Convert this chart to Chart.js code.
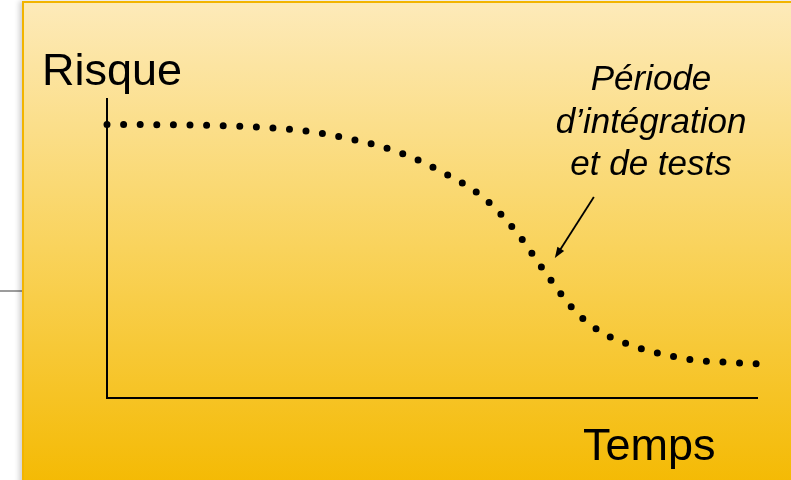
<!DOCTYPE html>
<html>
<head>
<meta charset="utf-8">
<title>Risque / Temps</title>
<script src="https://cdn.jsdelivr.net/npm/chart.js@4.4.0/dist/chart.umd.min.js"></script>
<style>
  html, body { margin: 0; padding: 0; background: #fff; }
  body { width: 791px; height: 480px; position: relative; overflow: hidden; }
  .rule { position: absolute; left: 0; top: 290px; width: 22px; height: 2px; background: #9c9c9c; }
  .panel {
    position: absolute; left: 22px; top: 1px; width: 780px; height: 490px;
    border-left: 2px solid #f2b400; border-top: 2px solid #f2b400;
    background: linear-gradient(#fdeab9 0%, #f9d35c 50%, #f4b900 100%);
    box-shadow: -3px 0 5px rgba(0, 0, 0, 0.18);
  }
  canvas { position: absolute; left: 0; top: 0; }
</style>
</head>
<body>
<div class="rule"></div>
<div class="panel"></div>
<canvas id="riskChart" width="791" height="480"></canvas>
<script>
// curve (time 0-100, risk 0-100)
const timeValues = [0, 12.6, 22.6, 30.2, 37.5, 44.8, 51.5, 58, 63.1, 67.5, 72, 76, 80.5, 85.4, 90.2, 95.2, 100.2];
const riskValues = [91.5, 91.3, 90.7, 89.4, 86.6, 82.3, 75.6, 66.9, 55.2, 41.8, 29.1, 22.1, 17.7, 14.7, 12.7, 12.0, 11.4];

const yTitle = 'Risque';
const xTitle = 'Temps';
const noteLines = ['Période', 'd’intégration', 'et de tests'];
// arrow: from tail to head, in data units
const arrowFrom = { x: 74.9, y: 67.2 };
const arrowTo = { x: 68.9, y: 46.8 };

const labelsPlugin = {
  id: 'labels',
  afterDatasetsDraw(chart) {
    const { ctx, scales: { x, y } } = chart;
    ctx.save();
    ctx.fillStyle = '#000';
    ctx.textBaseline = 'alphabetic';

    ctx.font = '45px "Liberation Sans", Arial, sans-serif';
    ctx.textAlign = 'left';
    ctx.fillText(yTitle, 42, 85);
    ctx.fillText(xTitle, 583, 460);

    ctx.font = 'italic 35px "Liberation Sans", Arial, sans-serif';
    ctx.textAlign = 'center';
    noteLines.forEach((line, i) => ctx.fillText(line, 651, 90 + i * 42.5));

    // arrow
    const x0 = x.getPixelForValue(arrowFrom.x), y0 = y.getPixelForValue(arrowFrom.y);
    const x1 = x.getPixelForValue(arrowTo.x), y1 = y.getPixelForValue(arrowTo.y);
    const ang = Math.atan2(y1 - y0, x1 - x0);
    ctx.strokeStyle = '#000';
    ctx.lineWidth = 1.8;
    ctx.beginPath();
    ctx.moveTo(x0, y0);
    ctx.lineTo(x1 - 6 * Math.cos(ang), y1 - 6 * Math.sin(ang));
    ctx.stroke();
    ctx.beginPath();
    ctx.moveTo(x1, y1);
    ctx.lineTo(x1 - 11 * Math.cos(ang) + 4 * Math.sin(ang), y1 - 11 * Math.sin(ang) - 4 * Math.cos(ang));
    ctx.lineTo(x1 - 11 * Math.cos(ang) - 4 * Math.sin(ang), y1 - 11 * Math.sin(ang) + 4 * Math.cos(ang));
    ctx.closePath();
    ctx.fill();
    ctx.restore();
  }
};

const axisOpts = {
  min: 0,
  max: 100,
  ticks: { display: false },
  grid: { display: false, drawTicks: false },
  border: { display: true, color: '#000', width: 2 }
};

new Chart(document.getElementById('riskChart'), {
  type: 'line',
  data: {
    datasets: [{
      data: timeValues.map((t, i) => ({ x: t, y: riskValues[i] })),
      borderColor: '#000',
      borderWidth: 7,
      borderDash: [0, 16.6],
      borderCapStyle: 'round',
      cubicInterpolationMode: 'monotone',
      pointRadius: 0,
      fill: false,
      clip: false
    }]
  },
  options: {
    responsive: false,
    animation: false,
    layout: { padding: { left: 107, top: 99, right: 34, bottom: 82 } },
    plugins: { legend: { display: false }, tooltip: { enabled: false } },
    scales: {
      x: { type: 'linear', ...axisOpts },
      y: { ...axisOpts }
    }
  },
  plugins: [labelsPlugin]
});
</script>
</body>
</html>
